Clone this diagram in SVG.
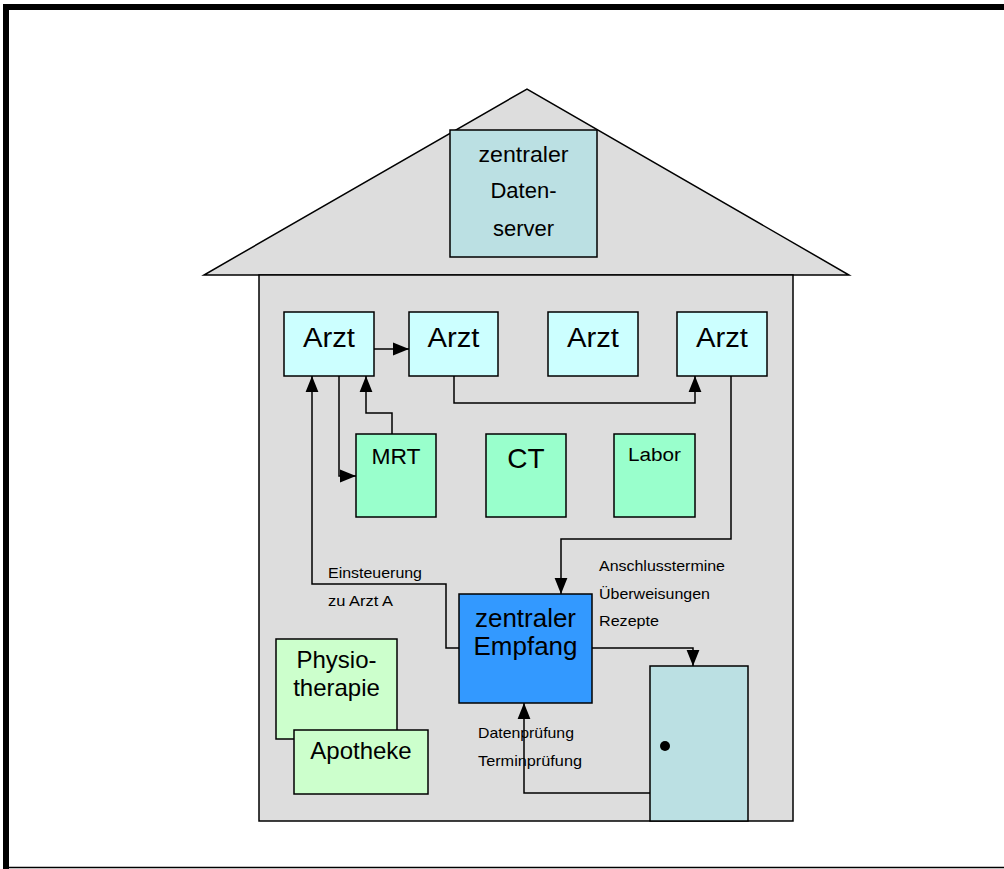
<svg xmlns="http://www.w3.org/2000/svg" width="1004" height="869" viewBox="0 0 1004 869">
  <defs>
    <style>
      .box { stroke: #000; stroke-width: 1.5; }
      .arzt { fill: #CCFFFF; }
      .dept { fill: #99FFCC; }
      .care { fill: #CCFFCC; }
      .srv { fill: #BBE0E3; }
      .t { font-family: "Liberation Sans", Arial, sans-serif; fill: #000; text-anchor: middle; }
      .lbl { font-family: "Liberation Sans", Arial, sans-serif; fill: #000; font-size: 15px; }
      .wire { fill: none; stroke: #000; stroke-width: 1.5; }
    </style>
    <marker id="ah" viewBox="0 0 10 10" refX="10" refY="5" markerWidth="16" markerHeight="16" markerUnits="userSpaceOnUse" orient="auto">
      <path d="M0,1 L10,5 L0,9 z" fill="#000"/>
    </marker>
  </defs>

  <!-- page frame -->
  <rect x="0" y="0" width="1004" height="869" fill="#fff"/>
  <rect x="3" y="4" width="1001" height="6" fill="#000"/>
  <rect x="3" y="4" width="6" height="865" fill="#000"/>
  <line x1="3" y1="867.5" x2="1004" y2="867.5" stroke="#000" stroke-width="1.5"/>

  <!-- house: roof and walls -->
  <g id="house">
    <polygon points="204,275 849,275 527,89" fill="#DDDDDD" stroke="#000" stroke-width="1.5"/>
    <rect x="259" y="275" width="534" height="546" fill="#DDDDDD" stroke="#000" stroke-width="1.5"/>
  </g>

  <g id="datenserver">
    <rect class="box srv" x="450" y="130" width="147" height="127"/>
    <text class="t" x="523.5" y="162" font-size="22" textLength="90" lengthAdjust="spacingAndGlyphs">zentraler</text>
    <text class="t" x="523.5" y="198" font-size="22">Daten-</text>
    <text class="t" x="523.5" y="236" font-size="22">server</text>
  </g>

  <g id="arzt1">
    <rect class="box arzt" x="284" y="312" width="90" height="64"/>
    <text class="t" x="329" y="347" font-size="27" textLength="52" lengthAdjust="spacingAndGlyphs">Arzt</text>
  </g>
  <g id="arzt2">
    <rect class="box arzt" x="409" y="312" width="89" height="64"/>
    <text class="t" x="453.5" y="347" font-size="27" textLength="52" lengthAdjust="spacingAndGlyphs">Arzt</text>
  </g>
  <g id="arzt3">
    <rect class="box arzt" x="548" y="312" width="90" height="64"/>
    <text class="t" x="593" y="347" font-size="27" textLength="52" lengthAdjust="spacingAndGlyphs">Arzt</text>
  </g>
  <g id="arzt4">
    <rect class="box arzt" x="677" y="312" width="90" height="64"/>
    <text class="t" x="722" y="347" font-size="27" textLength="52" lengthAdjust="spacingAndGlyphs">Arzt</text>
  </g>

  <g id="mrt">
    <rect class="box dept" x="356" y="434" width="80" height="83"/>
    <text class="t" x="396" y="464" font-size="22" textLength="49" lengthAdjust="spacingAndGlyphs">MRT</text>
  </g>
  <g id="ct">
    <rect class="box dept" x="486" y="434" width="80" height="83"/>
    <text class="t" x="526" y="468" font-size="28">CT</text>
  </g>
  <g id="labor">
    <rect class="box dept" x="614" y="434" width="81" height="83"/>
    <text class="t" x="654.5" y="461" font-size="18" textLength="53" lengthAdjust="spacingAndGlyphs">Labor</text>
  </g>

  <g id="empfang">
    <rect class="box" x="459" y="594" width="133" height="109" fill="#3399FF"/>
    <text class="t" x="525.5" y="627" font-size="25" textLength="101" lengthAdjust="spacingAndGlyphs">zentraler</text>
    <text class="t" x="525.5" y="655" font-size="25" textLength="104" lengthAdjust="spacingAndGlyphs">Empfang</text>
  </g>

  <g id="physiotherapie">
    <rect class="box care" x="276" y="639" width="121" height="100"/>
    <text class="t" x="336.5" y="668" font-size="24">Physio-</text>
    <text class="t" x="336.5" y="696" font-size="24">therapie</text>
  </g>
  <g id="apotheke">
    <rect class="box care" x="294" y="730" width="134" height="64"/>
    <text class="t" x="361" y="759" font-size="24">Apotheke</text>
  </g>

  <g id="tuer">
    <rect class="box srv" x="650" y="666" width="98" height="155"/>
    <circle cx="665" cy="746" r="5" fill="#000"/>
  </g>

  <!-- connectors -->
  <g id="connectors">
    <path class="wire" d="M374,349 H409" marker-end="url(#ah)"/>
    <path class="wire" d="M454,376 V403 H695 V376" marker-end="url(#ah)"/>
    <path class="wire" d="M339,376 V476 H356" marker-end="url(#ah)"/>
    <path class="wire" d="M392,434 V413 H366 V376" marker-end="url(#ah)"/>
    <path class="wire" d="M459,648 H446 V584 H312 V376" marker-end="url(#ah)"/>
    <path class="wire" d="M731,376 V539 H561 V594" marker-end="url(#ah)"/>
    <path class="wire" d="M592,648 H693 V666" marker-end="url(#ah)"/>
    <path class="wire" d="M650,793 H524 V703" marker-end="url(#ah)"/>
  </g>

  <!-- connector labels -->
  <g id="labels">
    <text class="lbl" x="328" y="578" textLength="94" lengthAdjust="spacingAndGlyphs">Einsteuerung</text>
    <text class="lbl" x="328" y="606" textLength="65" lengthAdjust="spacingAndGlyphs">zu Arzt A</text>
    <text class="lbl" x="599" y="571" textLength="126" lengthAdjust="spacingAndGlyphs">Anschlusstermine</text>
    <text class="lbl" x="599" y="599" textLength="111" lengthAdjust="spacingAndGlyphs">Überweisungen</text>
    <text class="lbl" x="599" y="626" textLength="60" lengthAdjust="spacingAndGlyphs">Rezepte</text>
    <text class="lbl" x="478" y="738" textLength="96" lengthAdjust="spacingAndGlyphs">Datenprüfung</text>
    <text class="lbl" x="478" y="766" textLength="104" lengthAdjust="spacingAndGlyphs">Terminprüfung</text>
  </g>
</svg>
